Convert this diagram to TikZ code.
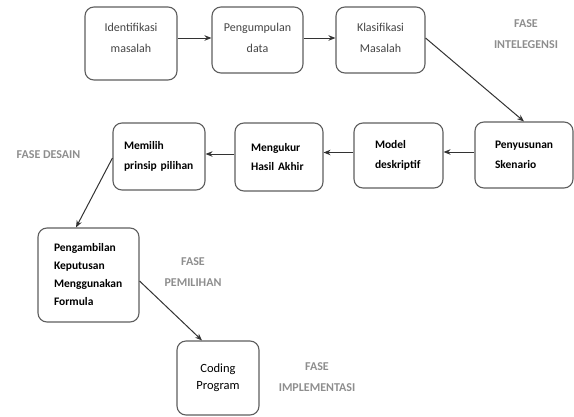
\documentclass[tikz,border=0pt]{standalone}
\usepackage{fontspec}
\setmainfont{Carlito}
\usetikzlibrary{arrows.meta}

\definecolor{edge}{HTML}{5E5E5E}
\definecolor{wire}{HTML}{333333}
\definecolor{plain}{HTML}{454545}
\definecolor{phase}{HTML}{8E8E8E}

\begin{document}
\begin{tikzpicture}[x=1pt,y=-1pt,
  rbox/.style n args={3}{draw=edge, line width=1.1pt, rounded corners=9pt,
    fill=white, inner xsep=0pt, inner ysep=2pt,
    minimum width=#1, minimum height=#2, text width=#3},
  toprow/.style={align=center, text=plain, font=\fontsize{12}{21}\selectfont},
  midrow/.style={align=left, text=black, font=\bfseries\fontsize{11.5}{19.5}\selectfont},
  phaselabel/.style={align=center, text=phase, inner sep=0pt,
    font=\bfseries\fontsize{12}{21}\selectfont},
  flow/.style={draw=wire, line width=1pt, -{Stealth[length=7pt,width=5.5pt]}}
]
\useasboundingbox (0,0) rectangle (574,416);

% intelligence phase (text sits a little above the box centre)
\node[rbox={92pt}{73pt}{86pt}, toprow] (ident) at (131,43.5)
  {Identifikasi\\masalah\par\vspace{12pt}};
\node[rbox={91pt}{66pt}{85pt}, toprow] (kumpul) at (257.5,40)
  {Pengumpulan\\data\par\vspace{5pt}};
\node[rbox={89pt}{66pt}{83pt}, toprow] (klas) at (380.5,40)
  {Klasifikasi\\Masalah\par\vspace{5pt}};
\node[phaselabel] (fintel) at (526,34) {FASE\\INTELEGENSI};

% design phase
\node[rbox={98pt}{66pt}{58pt}, midrow] (skenario) at (524,155) {Penyusunan\\Skenario};
\node[rbox={89pt}{65pt}{47pt}, midrow] (model) at (398.5,155.5) {Model\\deskriptif};
\node[rbox={88pt}{68pt}{56pt}, midrow] (ukur) at (279,157) {Mengukur\\Hasil Akhir};
\node[rbox={92pt}{67pt}{70pt}, midrow] (pilih) at (159,156.5) {Memilih\\prinsip pilihan};
\node[phaselabel] (fdesain) at (48.5,155) {FASE DESAIN};

% choice phase
\node[rbox={101pt}{94pt}{69pt}, align=left, text=black,
      font=\bfseries\fontsize{11.5}{18}\selectfont] (ambil) at (88.5,275)
      {Pengambilan\\Keputusan\\Menggunakan\\Formula};
\node[phaselabel] (fpilih) at (193,272.5) {FASE\\PEMILIHAN};

% implementation phase
\node[rbox={82pt}{74pt}{76pt}, align=center, text=black,
      font=\fontsize{12.5}{17}\selectfont] (coding) at (218,378) {Coding\\Program};
\node[phaselabel] (fimpl) at (317,377) {FASE\\IMPLEMENTASI};

% connectors
\draw[flow] ([yshift=5.5pt]ident.east) -- ([yshift=2pt]kumpul.west);
\draw[flow] ([yshift=2pt]kumpul.east) -- ([yshift=2pt]klas.west);
\draw[flow] ([yshift=2pt]klas.east) -- (skenario.north);
\draw[flow] ([yshift=3pt]skenario.west) -- ([yshift=3pt]skenario.west -| model.east);
\draw[flow] ([yshift=3pt]model.west) -- ([yshift=3pt]model.west -| ukur.east);
\draw[flow] ([yshift=3pt]ukur.west) -- ([yshift=3pt]ukur.west -| pilih.east);
\draw[flow] ([yshift=-1.5pt]pilih.west) -- ([xshift=-12.5pt]ambil.north);
\draw[flow] ([yshift=-6pt]ambil.east) -- ([xshift=-16pt]coding.north);
\end{tikzpicture}
\end{document}
